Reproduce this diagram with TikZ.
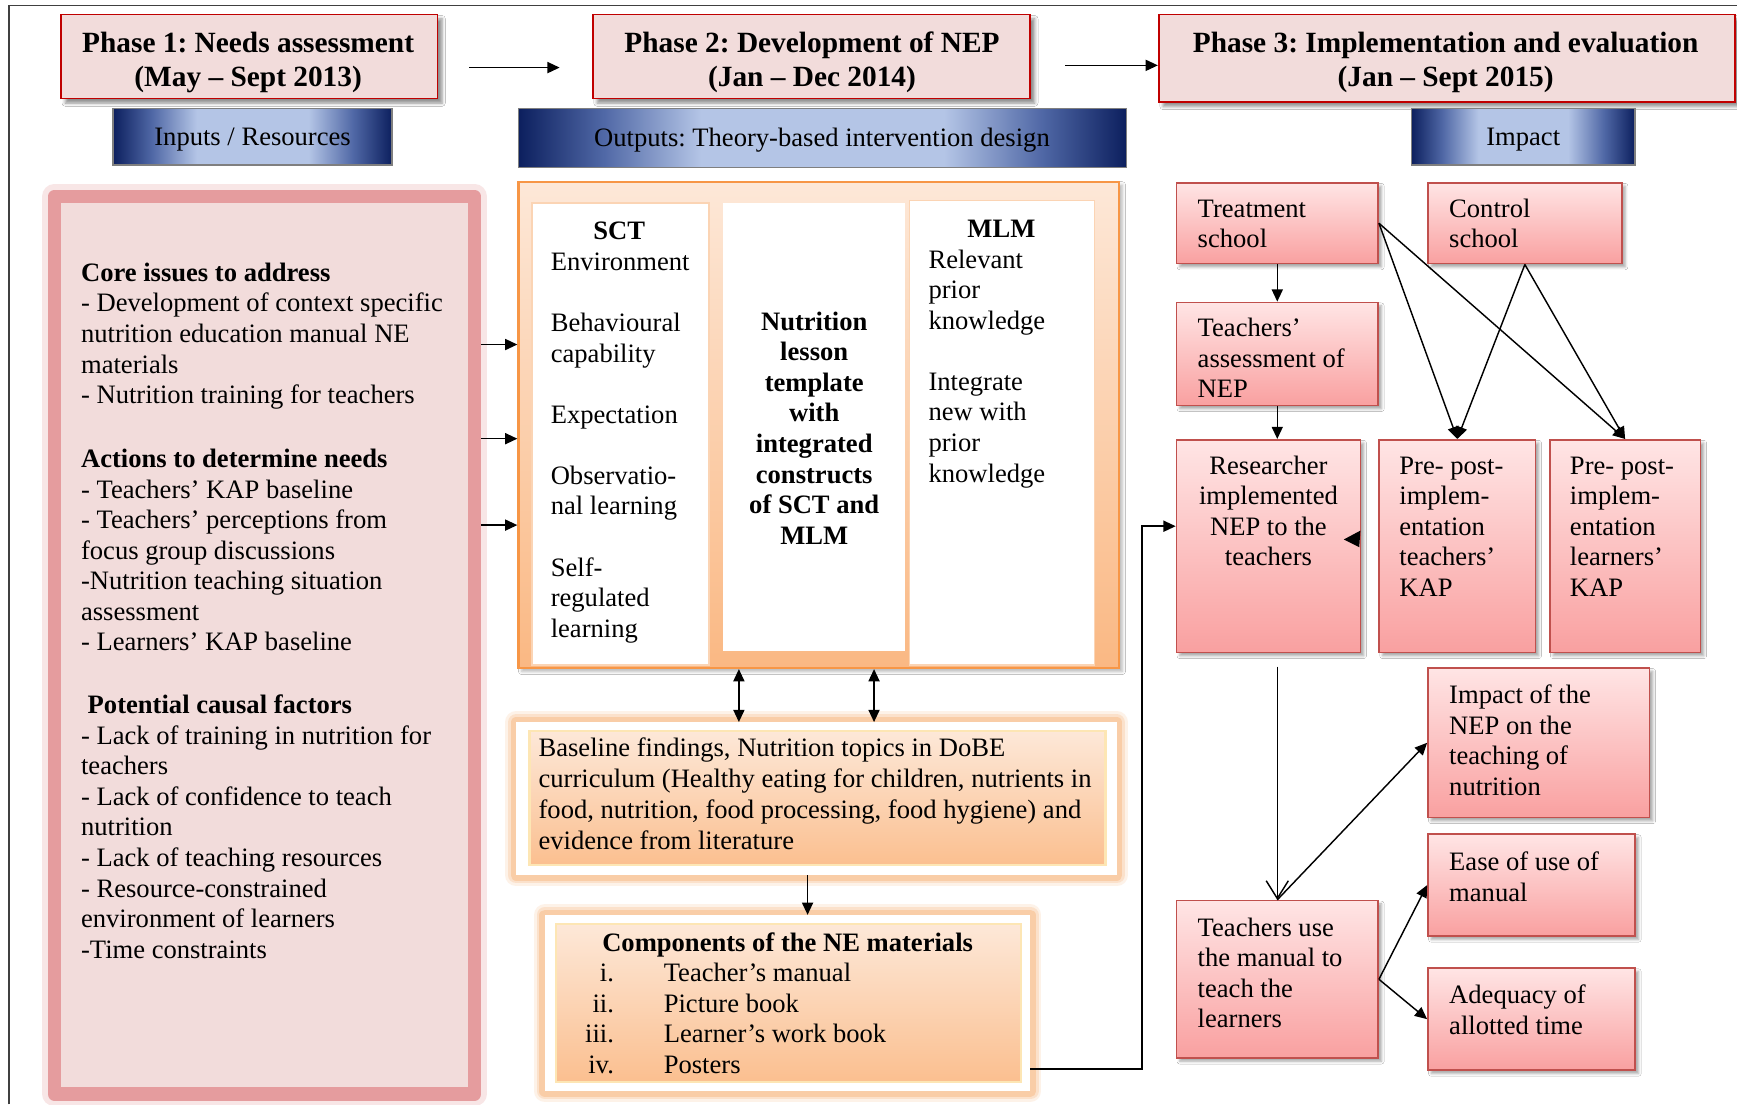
\documentclass[tikz,border=0pt]{standalone}
\usepackage{fontspec}
\setmainfont{Liberation Serif}
\usetikzlibrary{arrows.meta,fit,calc,shadows.blur}
\frenchspacing

\definecolor{phasefill}{HTML}{F2DCDB}
\definecolor{phaseline}{HTML}{C00000}
\definecolor{navyband}{HTML}{0C1F5E}
\definecolor{navymid}{HTML}{5068A6}
\definecolor{skyband}{HTML}{B4C5E6}
\definecolor{barline}{HTML}{7F7F7F}
\definecolor{roseedge}{HTML}{E59C9E}
\definecolor{rosefill}{HTML}{F2DCDB}
\definecolor{peachtop}{HTML}{FDE8D8}
\definecolor{peachbot}{HTML}{FAB883}
\definecolor{orangeline}{HTML}{F79646}
\definecolor{orangeglow}{HTML}{F8A865}
\definecolor{colline}{HTML}{FBD4B4}
\definecolor{rimyellow}{HTML}{FDE6B4}
\definecolor{pinktop}{HTML}{FFE5E5}
\definecolor{pinkbot}{HTML}{F9A0A0}
\definecolor{pinkline}{HTML}{C0504D}
\definecolor{frameline}{HTML}{404040}

\pgfdeclarehorizontalshading{bluebar}{100bp}{color(0bp)=(navyband); color(25bp)=(navyband); color(32bp)=(navymid); color(40bp)=(skyband); color(60bp)=(skyband); color(68bp)=(navymid); color(75bp)=(navyband); color(100bp)=(navyband)}

% a block of lines whose baseline is that of its first line
\newcommand\toplines[2]{\begin{tabular}[t]{@{}#1@{}}#2\end{tabular}}

\begin{document}
\begin{tikzpicture}[x=1pt,y=-1pt,
  font=\fontsize{24}{27.6}\selectfont,
  txt/.style={inner sep=0pt, anchor=base west},
  ctxt/.style={inner sep=0pt, anchor=base},
  heavy/.style={font=\fontsize{24}{27.6}\selectfont\bfseries},
  phasebox/.style={draw=phaseline, line width=1.6pt, fill=phasefill, inner sep=0pt,
     blur shadow={shadow xshift=4pt, shadow yshift=-4pt, shadow blur radius=3pt, shadow opacity=45}},
  phasetext/.style={ctxt, font=\fontsize{26.5}{31}\selectfont\bfseries},
  bandbox/.style={draw=barline, line width=1.3pt, shading=bluebar, inner sep=0pt},
  pinkbox/.style={draw=pinkline, line width=1.5pt, top color=pinktop, bottom color=pinkbot, inner sep=0pt,
     blur shadow={shadow xshift=3pt, shadow yshift=-3pt, shadow blur radius=2.5pt, shadow opacity=35}},
  colbox/.style={draw=colline, line width=1.5pt, fill=white, inner sep=0pt},
  glowbox/.style={fill=white, inner sep=0pt, line join=round,
     preaction={draw=orangeglow, line width=20pt, opacity=0.15, line join=round},
     preaction={draw=orangeglow, line width=15pt, opacity=0.22, line join=round},
     preaction={draw=orangeglow, line width=10pt, opacity=0.35, line join=round}},
  innerbox/.style={draw=rimyellow, line width=2pt, top color=peachtop, bottom color=peachbot!90!white, inner sep=0pt},
  conn/.style={line width=1.3pt, -{Triangle[length=11pt,width=10pt]}},
  twoway/.style={line width=1.3pt, {Triangle[length=11pt,width=10pt]}-{Triangle[length=11pt,width=10pt]}},
]
\fill[white] (0,0) rectangle (1568,997);
\useasboundingbox (0,0) rectangle (1568,997);

% outer frame lines
\draw[frameline, line width=1.4pt] (8,997) -- (8,5) -- (1568,5);

% phase headers
\node[phasebox, fit={(55,13) (395,89)}] (ph1) {};
\node[phasetext] (ph1t) at (224,47) {\toplines{c}{Phase 1: Needs assessment\\(May -- Sept 2013)}};
\node[phasebox, fit={(535,13) (930,89)}] (ph2) {};
\node[phasetext] (ph2t) at (733,47) {\toplines{c}{Phase 2: Development of NEP\\(Jan -- Dec 2014)}};
\node[phasebox, fit={(1046,13) (1566,92)}] (ph3) {};
\node[phasetext] (ph3t) at (1305,47) {\toplines{c}{Phase 3: Implementation and evaluation\\(Jan -- Sept 2015)}};

\draw[conn] ($(ph1.east)+(28,10)$) -- ($(ph2.west)+(-29,10)$);
\draw[conn] ($(ph2.east)+(31,8)$) -- ($(ph3.west)+(0,6.5)$);

% column bands
\node[bandbox, fit={(102,98) (354,149)}] (inband) {};
\node[ctxt] (inbandt) at (228,131) {Inputs / Resources};
\node[bandbox, fit={(468,98) (1017,151)}] (outband) {};
\node[ctxt] (outbandt) at (742,132) {Outputs: Theory-based intervention design};
\node[bandbox, fit={(1274,98) (1476,149)}] (impband) {};
\node[ctxt] (impbandt) at (1375,131) {Impact};

% inputs / resources
\node[fill=rosefill, draw=roseedge, line width=12pt, line join=round, inner sep=0pt,
  preaction={draw=roseedge, line width=22pt, opacity=0.25, line join=round},
  fit={(49,177.5) (428.5,987.5)}] (inputs) {};
\node[txt] (inputstxt) at (73,254) {\toplines{l}{\textbf{Core issues to address}\\
- Development of context specific\\
nutrition education manual NE\\
materials\\
- Nutrition training for teachers\\[30pt]
\textbf{Actions to determine needs}\\
- Teachers' KAP baseline\\
- Teachers' perceptions from\\
focus group discussions\\
-Nutrition teaching situation\\
assessment\\
- Learners' KAP baseline\\[29pt]
\hspace{6pt}\textbf{Potential causal factors}\\
- Lack of training in nutrition for\\
teachers\\
- Lack of confidence to teach\\
nutrition\\
- Lack of teaching resources\\
- Resource-constrained\\
environment of learners\\
-Time constraints}};

% outputs: intervention design
\node[draw=orangeline, line width=2pt, top color=peachtop, bottom color=peachbot, inner sep=0pt,
  blur shadow={shadow xshift=3pt, shadow yshift=-3pt, shadow blur radius=3pt, shadow opacity=30},
  fit={(468,164) (1010,603)}] (outputs) {};
\node[colbox, fit={(480,183) (640,600)}] (sctcol) {};
\node[colbox, draw=none, fit={(653,183) (817,588)}] (lessoncol) {};
\node[colbox, fit={(821,181) (988,600)}] (mlmcol) {};

\node[ctxt, heavy] (scthead) at (559,216) {SCT};
\node[txt] (scttxt) at (497,244) {\toplines{l}{Environment\\[27.6pt]Behavioural\\capability\\[27.6pt]Expectation\\[27.6pt]Observatio-\\nal learning\\[27.6pt]Self-\\regulated\\learning}};
\node[ctxt, heavy] (lessontxt) at (735,298) {\toplines{c}{Nutrition\\lesson\\template\\with\\integrated\\constructs\\of SCT and\\MLM}};
\node[ctxt, heavy] (mlmhead) at (904,214) {MLM};
\node[txt] (mlmtxt) at (838,242) {\toplines{l}{Relevant\\prior\\knowledge\\[27.6pt]Integrate\\new with\\prior\\knowledge}};

\draw[conn] (inputs.east |- 0,311) -- (outputs.west |- 0,311);
\draw[conn] (inputs.east |- 0,396) -- (outputs.west |- 0,396);
\draw[conn] (inputs.east |- 0,474) -- (outputs.west |- 0,474);

% baseline findings
\node[glowbox, fit={(466,652) (1008,790)}] (basefrm) {};
\node[innerbox, fit={(478,660) (998,781)}] (baseinner) {};
\node[txt, font=\fontsize{24}{28}\selectfont] (basetxt) at (486,683) {\toplines{l}{Baseline findings, Nutrition topics in DoBE\\curriculum (Healthy eating for children, nutrients in\\food, nutrition, food processing, food hygiene) and\\evidence from literature}};

\draw[twoway] (outputs.south -| 667,0) -- (basefrm.north -| 667,0);
\draw[twoway] (outputs.south -| 789,0) -- (basefrm.north -| 789,0);

% NE materials
\node[glowbox, fit={(492,826) (930,985)}] (compfrm) {};
\node[innerbox, fit={(502,834) (922,977)}] (compinner) {};
\node[ctxt, heavy] (comphead) at (711,859) {Components of the NE materials};
\node[txt] (complist) at (528,886) {\begin{tabular}[t]{@{}r@{\hspace{45pt}}l@{}}i.&Teacher's manual\\ii.&Picture book\\iii.&Learner's work book\\iv.&Posters\end{tabular}};

\draw[conn] (basefrm.south -| 729,0) -- (compfrm.north -| 729,0);

% implementation and evaluation
\node[pinkbox, fit={(1062,165) (1244,238)}] (treat) {};
\node[txt] (treatt) at (1081,196) {\toplines{l}{Treatment\\school}};
\node[pinkbox, fit={(1289,165) (1464,238)}] (ctrl) {};
\node[txt] (ctrlt) at (1308,196) {\toplines{l}{Control\\school}};
\node[pinkbox, fit={(1062,273) (1244,366)}] (assess) {};
\node[txt] (assesst) at (1081,304) {\toplines{l}{Teachers'\\assessment of\\NEP}};
\node[pinkbox, fit={(1062,397) (1228,589)}] (research) {};
\node[ctxt] (researcht) at (1145,428) {\toplines{c}{Researcher\\implemented\\NEP to the\\teachers}};
\node[pinkbox, fit={(1245,397) (1386,589)}] (preT) {};
\node[txt] (preTt) at (1263,428) {\toplines{l}{Pre- post-\\implem-\\entation\\teachers'\\KAP}};
\node[pinkbox, fit={(1399,397) (1535,589)}] (preL) {};
\node[txt] (preLt) at (1417,428) {\toplines{l}{Pre- post-\\implem-\\entation\\learners'\\KAP}};
\node[pinkbox, fit={(1289,603) (1489,738)}] (impact) {};
\node[txt] (impactt) at (1308,635) {\toplines{l}{Impact of the\\NEP on the\\teaching of\\nutrition}};
\node[pinkbox, fit={(1289,753) (1476,845)}] (ease) {};
\node[txt] (easet) at (1308,786) {\toplines{l}{Ease of use of\\manual}};
\node[pinkbox, fit={(1289,874) (1476,966)}] (adeq) {};
\node[txt] (adeqt) at (1308,906) {\toplines{l}{Adequacy of\\allotted time}};
\node[pinkbox, fit={(1062,813) (1244,955)}] (teachuse) {};
\node[txt] (teachuset) at (1081,845) {\toplines{l}{Teachers use\\the manual to\\teach the\\learners}};

\draw[conn] (treat.south) -- (assess.north);
\draw[conn] (assess.south) -- (assess.south |- research.north);
\draw[conn] (treat.east) -- (preT.north);
\draw[conn] (treat.east) -- (preL.north);
\draw[conn] (ctrl.south) -- (preT.north);
\draw[conn] (ctrl.south) -- (preL.north);
\fill (1228,479) -- (1213,487) -- (1227,494) -- cycle;

\draw[conn] (compfrm.east |- 0,965) -- (1031,965) -- (1031,475) -- (research.west |- 0,475);

\draw[line width=1.3pt, -{Straight Barb[length=16pt,width=20pt]}, shorten <=12pt] (research.south -| teachuse.north) -- (teachuse.north);
\draw[conn] (teachuse.north) -- (impact.west);
\draw[conn] (teachuse.east) -- (ease.west);
\draw[conn] (teachuse.east) -- (adeq.west);
\end{tikzpicture}
\end{document}
